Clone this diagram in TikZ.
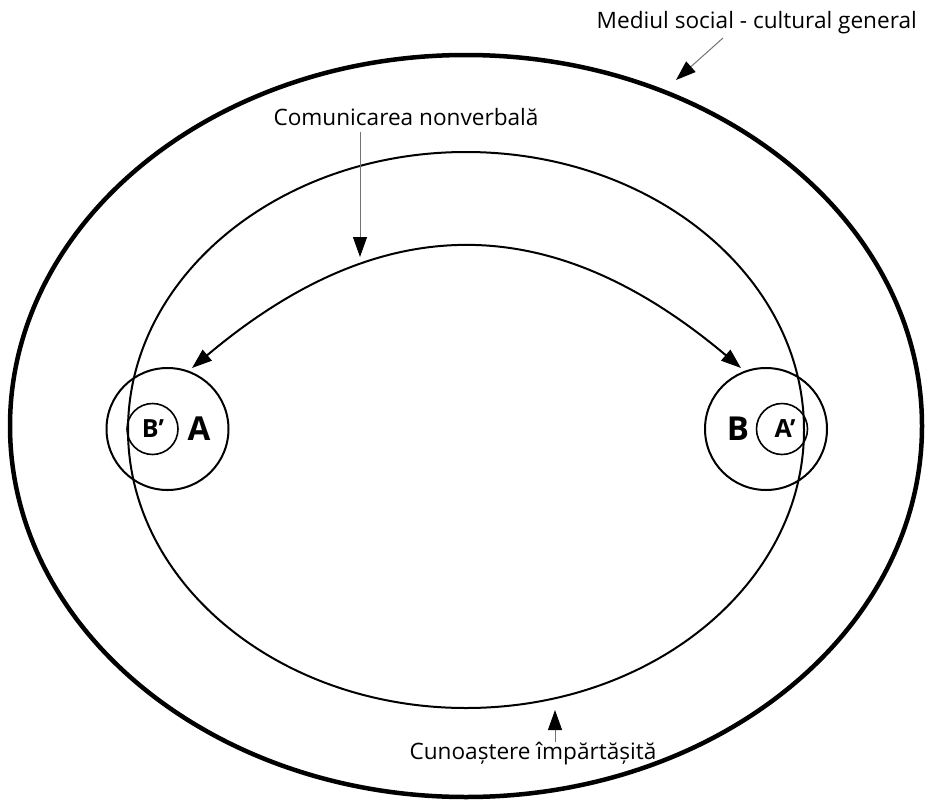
\documentclass[tikz,border=0pt]{standalone}
\usepackage{fontspec}
\setmainfont{Open Sans}
\usetikzlibrary{arrows.meta,shapes.geometric}

\begin{document}
\begin{tikzpicture}[x=1pt,y=-1pt,
  ring/.style={draw,ellipse,inner sep=0pt},
  disc/.style={draw,circle,inner sep=0pt,line width=2pt},
  tip/.style={-{Triangle[length=20pt,width=14pt,color=black]}},
  leader/.style={tip,draw=black!55,line width=1pt},
  caption/.style={font=\fontsize{22.6}{22.6}\selectfont,anchor=base,inner sep=0pt},
  big/.style={font=\bfseries\fontsize{33}{33}\selectfont,inner sep=0pt},
  small/.style={font=\bfseries\fontsize{25}{25}\selectfont,inner sep=0pt}]
\useasboundingbox (0,0) rectangle (926,803);

% environment and shared knowledge
\node[ring,line width=4.5pt,minimum width=912pt,minimum height=742pt] (outer) at (466,426) {};
\node[ring,line width=2pt,minimum width=676pt,minimum height=556pt] (inner) at (466,430) {};

% the two partners
\node[disc,minimum size=122pt] (cA) at (167.5,429) {};
\node[disc,line width=1.6pt,minimum size=51pt] (cBp) at (152.5,429) {};
\node[disc,minimum size=122pt] (cB) at (766,429) {};
\node[disc,line width=1.6pt,minimum size=51pt] (cAp) at (782,429) {};
\node[big] (lA) at (199,429) {A};
\node[big] (lB) at (738,429) {B};
\node[small] (lBp) at (153,429) {B’};
\node[small] (lAp) at (785,429) {A’};

% nonverbal exchange
\coordinate (aL) at (192,368);
\coordinate (aR) at (741,368);
\draw[line width=2pt,{Triangle[length=20pt,width=14pt]}-{Triangle[length=20pt,width=14pt]}]
  (aL) .. controls (382,208) and (551,208) .. (aR);

% labels with leaders
\node[caption,anchor=base east] (tMed) at (917,28) {Mediul social - cultural general};
\coordinate (mS) at (723,38);
\coordinate (mE) at (676,80);
\draw[leader] (mS) -- (mE);

\node[caption] (tCom) at (406,125) {Comunicarea nonverbală};
\coordinate (cS) at (360,132);
\coordinate (cE) at (360,257);
\draw[leader] (cS) -- (cE);

\node[caption] (tCun) at (533,759) {Cunoaștere împărtășită};
\coordinate (kS) at (555,742);
\coordinate (kE) at (555,710);
\draw[leader] (kS) -- (kE);
\end{tikzpicture}
\end{document}
